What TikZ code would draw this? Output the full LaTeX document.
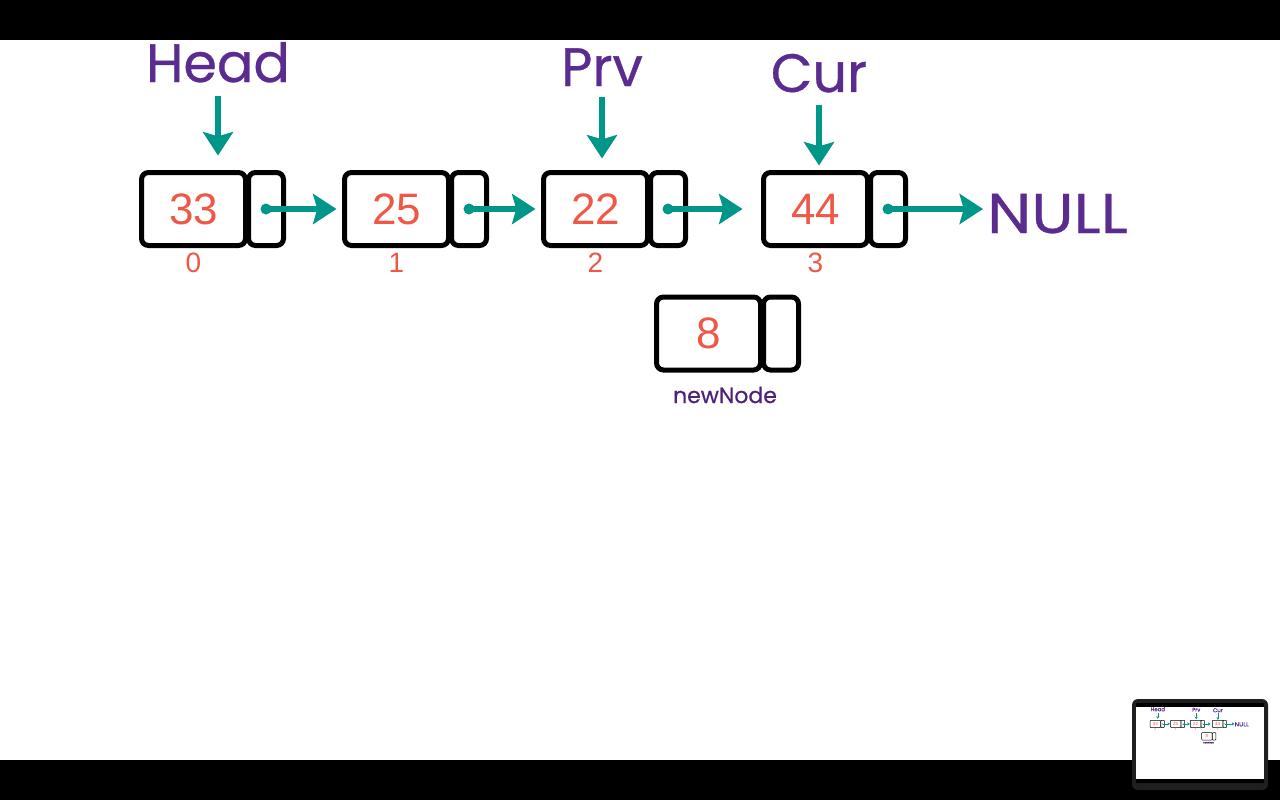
\documentclass[tikz,border=0pt]{standalone}
\usepackage{fontspec}
\setmainfont{Poppins}[FakeBold=0.6]
\newfontfamily\nulltxtfont{Poppins}[FakeBold=0.6, FakeStretch=1.12]
\newfontfamily\numfont{Liberation Sans}
\usetikzlibrary{arrows.meta}
\definecolor{teal2}{HTML}{009688}
\definecolor{purp}{HTML}{5B2C8F}
\definecolor{purpd}{HTML}{4E2277}
\definecolor{redn}{HTML}{EF5846}
\def\sc{1}
\tikzset{
  databox/.style={draw=black, fill=white, line width=\sc*5pt, rounded corners=\sc*7pt,
    minimum width=104pt, minimum height=73pt, inner sep=0pt, text=redn,
    font=\numfont\fontsize{44}{44}\selectfont},
  ptrbox/.style={databox, minimum width=35pt},
  idx/.style={inner sep=0pt, text=redn, font=\numfont\fontsize{28}{28}\selectfont},
  lbl/.style={inner sep=0pt, anchor=base, text=purp, font=\fontsize{54}{54}\selectfont},
  small/.style={inner sep=0pt, text=purpd, font=\fontsize{22}{22}\selectfont},
  ptr/.style={draw=teal2, line width=\sc*6pt,
    -{Stealth[length=0pt 3.9, width=0pt 5, inset=0pt 0.7]}},
}
\newcommand\scenedraw[1]{%
  \fill[white] (0,0) rectangle (1280,-800);
  \fill[black] (0,0) rectangle (1280,-40);
  \fill[black] (0,-760) rectangle (1280,-800);
  \foreach \i/\L/\v in {0/139/33,1/342/25,2/541/22,3/761/44} {
    \node[databox] (#1d\i) at (\L+54.5,-209) {\v};
    \node[ptrbox] (#1p\i) at (\L+127,-209) {};
    \node[idx] (#1i\i) at (\L+54.5,-263) {\i};
    \fill[teal2] (#1p\i.center) circle (5.5);
  }
  \node[databox] (#1dn) at (708.5,-333.5) {8};
  \node[ptrbox] (#1pn) at (781,-333.5) {};
  \node[small] (#1nn) at (725,-395) {newNode};
  \node[lbl] (#1hd) at (218,-82) {Head};
  \node[lbl] (#1pv) at (602,-86) {Prv};
  \node[lbl] (#1cu) at (819,-92) {Cur};
  \node[lbl, anchor=base west, font=\nulltxtfont\fontsize{56}{56}\selectfont] (#1nl) at (987,-233) {NULL};
  \draw[ptr, shorten <=\sc*13pt, shorten >=\sc*14.5pt] (#1hd.south) -- (#1hd.south |- #1d0.north);
  \draw[ptr, shorten <=\sc*11pt, shorten >=\sc*11.5pt] (#1pv.south) -- (#1pv.south |- #1d2.north);
  \draw[ptr, shorten <=\sc*12pt, shorten >=\sc*4.5pt] (#1cu.south) -- (#1cu.south |- #1d3.north);
  \draw[ptr, shorten >=\sc*5.5pt] (#1p0.center) -- (#1d1.west);
  \draw[ptr, shorten >=\sc*5.5pt] (#1p1.center) -- (#1d2.west);
  \draw[ptr, shorten >=\sc*18.5pt] (#1p2.center) -- (#1d3.west);
  \draw[ptr, shorten >=\sc*4pt] (#1p3.center) -- (#1p3.center -| #1nl.west);
}
\begin{document}
\begin{tikzpicture}[x=1pt, y=1pt]
  \useasboundingbox (0,0) rectangle (1280,-800);
  \scenedraw{}
  \fill[black!88, rounded corners=6pt] (1132,-699) rectangle (1268,-790);
  \begin{scope}[shift={(1136,-703)}, scale=0.1, transform shape]
    \def\sc{0.1}
    \scenedraw{m}
  \end{scope}
\end{tikzpicture}
\end{document}
